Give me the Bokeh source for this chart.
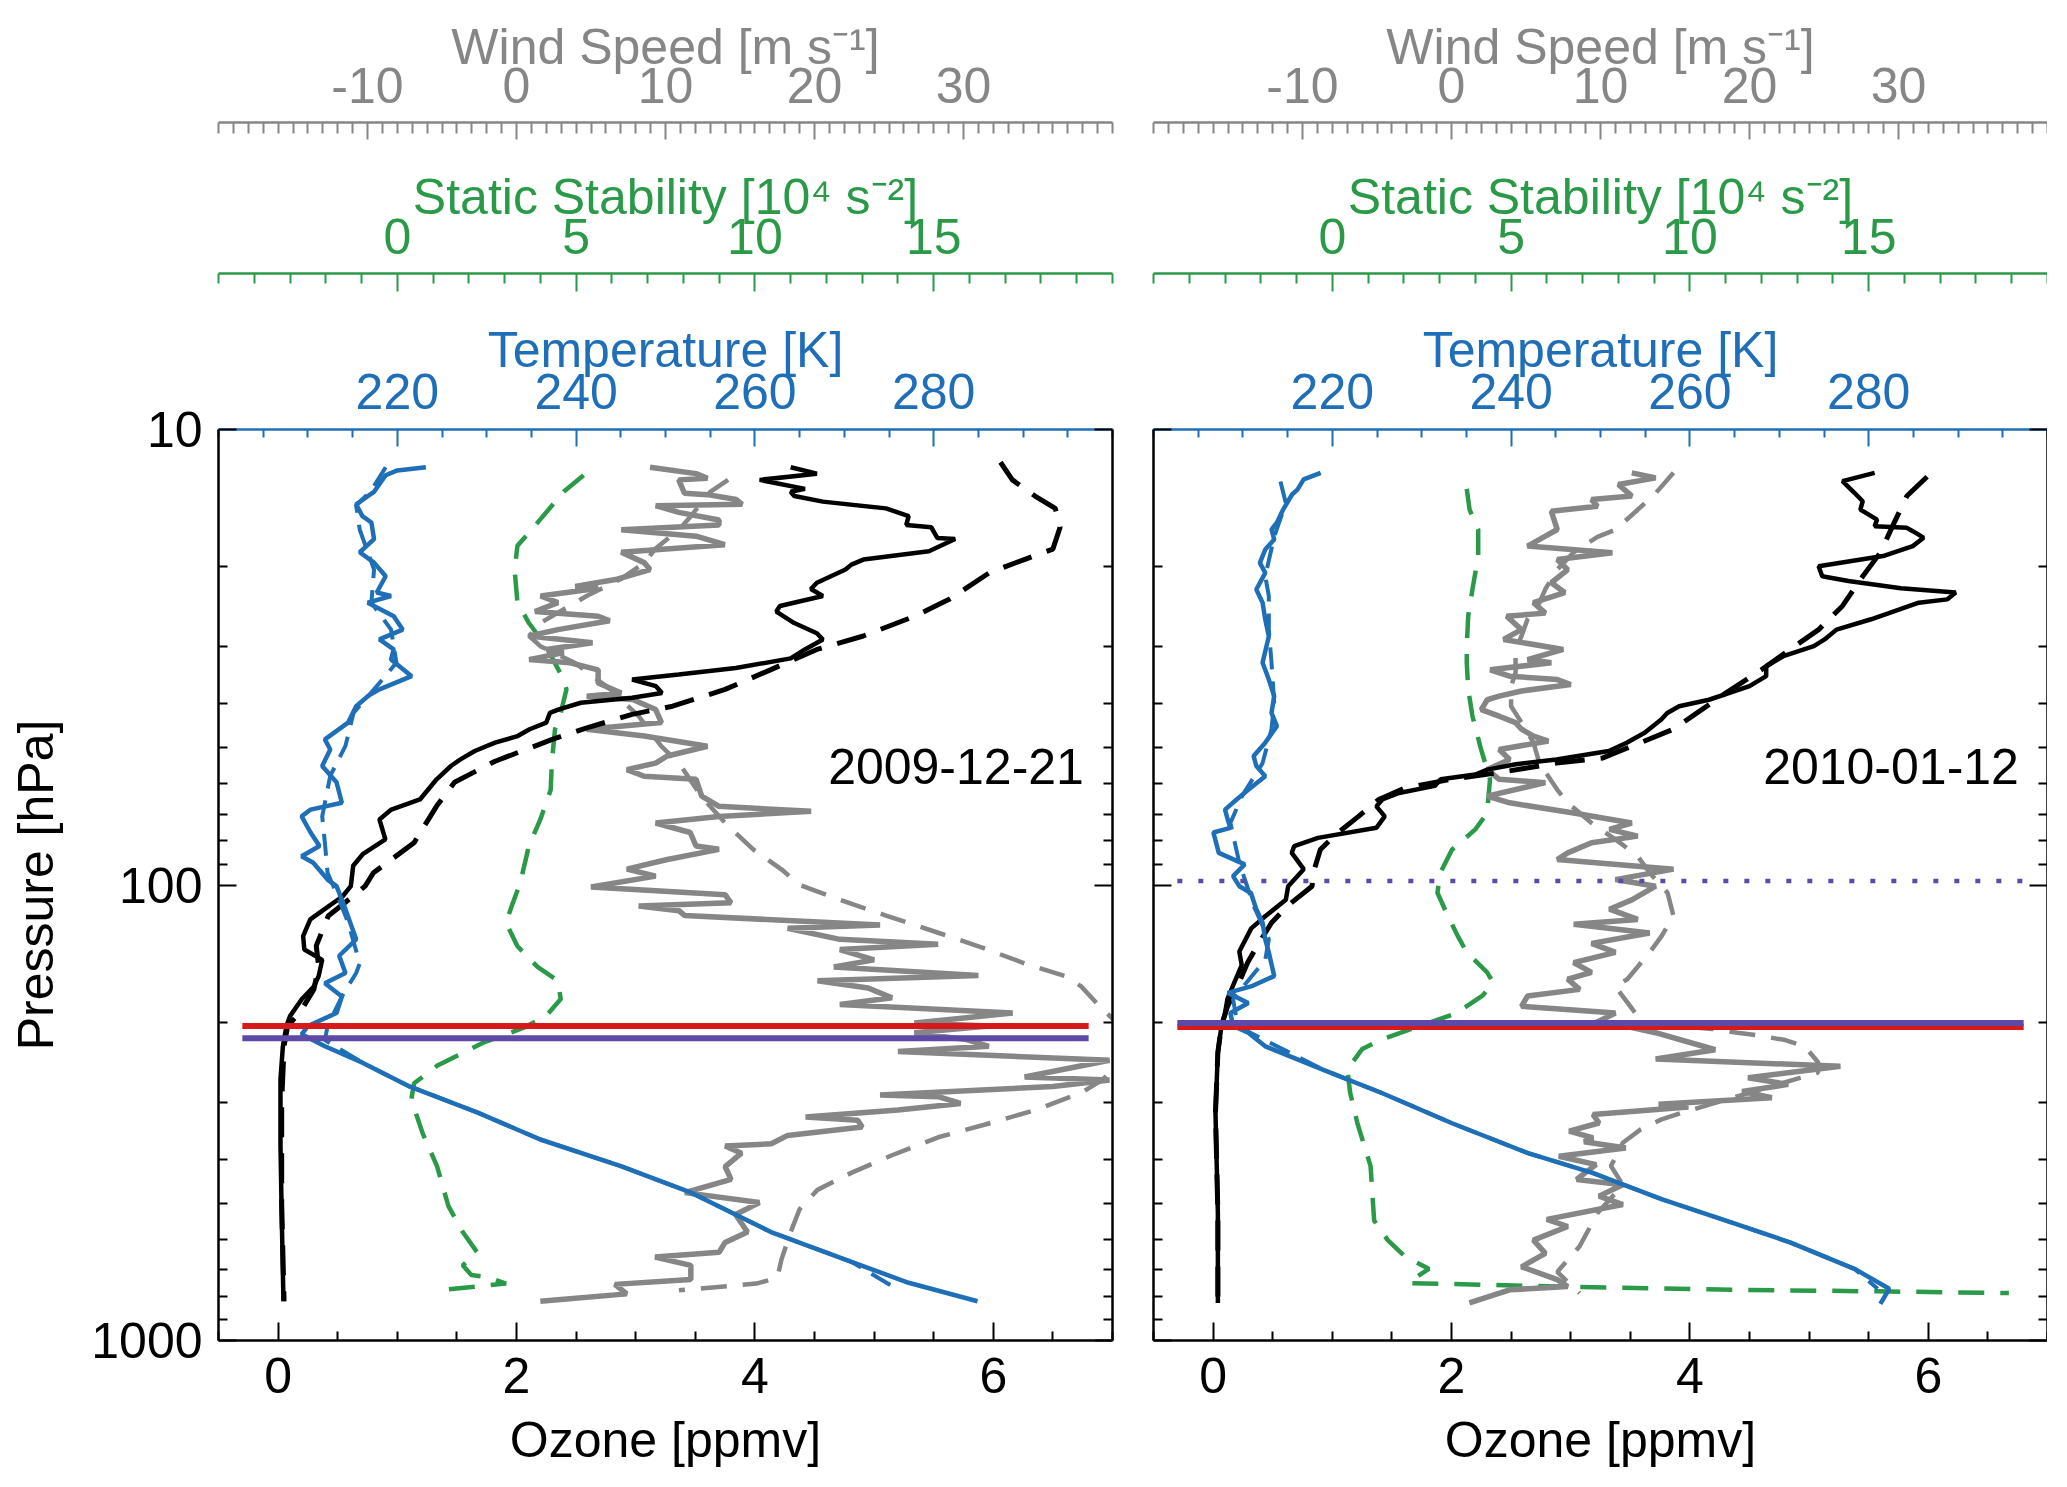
from bokeh.plotting import figure
from bokeh.models import Range1d, LinearAxis, LogAxis, FixedTicker, Label
from bokeh.layouts import row
from bokeh.embed import file_html
from bokeh.resources import INLINE

FONT = "Liberation Sans"
FS = "50px"
BLUE = "#1f6fb8"
GREEN = "#2a9a48"
GRAY = "#868686"
RED = "#d7191c"
PURPLE = "#5e4aa6"

# ---------------- ticks ----------------
ozone_major = [0, 2, 4, 6]
ozone_minor = [-0.5, 0.5, 1, 1.5, 2.5, 3, 3.5, 4.5, 5, 5.5, 6.5, 7]
p_major = [10, 100, 1000]
p_minor = [20, 30, 40, 50, 60, 70, 80, 90, 200, 300, 400, 500, 600, 700, 800, 900]
p_labels = {10: "10", 100: "100", 1000: "1000"}
temp_major = [220, 240, 260, 280]
temp_minor = [t for t in range(200, 301, 5) if t not in temp_major]
ss_major = [0, 5, 10, 15]
ss_minor = [s for s in range(-5, 21) if s not in ss_major]
wind_major = [-10, 0, 10, 20, 30]
wind_minor = [w for w in range(-20, 41) if w not in wind_major]

# ---------------- 2009-12-21 ----------------
l_o3_p = [12.1, 12.5, 12.9, 13.5, 13.7, 14.0, 14.4, 14.9, 15.5, 16.2, 16.4, 17.3, 17.4, 18.5, 19.3,
          19.8, 20.3, 21.7, 22.4, 23.2, 24.4, 25.1, 26.6, 28.0, 28.9, 30.4, 31.8, 33.4, 34.5, 35.4,
          36.6, 37.9, 38.8, 39.8, 41.2, 41.9, 44.0, 45.5, 47.1, 48.7, 50.8, 53.0, 54.8, 58.6, 64.9,
          68.3, 71.8, 79.4, 85.6, 90.7, 100.6, 106, 113, 119, 129.5, 138.6, 146, 158.5, 167, 178,
          194, 204, 226, 267, 374, 525, 820]
l_o3 = [4.30, 4.52, 4.04, 4.42, 4.30, 4.33, 4.57, 5.10, 5.29, 5.27, 5.48, 5.53, 5.68, 5.46, 4.91,
        4.81, 4.76, 4.52, 4.47, 4.57, 4.21, 4.18, 4.33, 4.52, 4.57, 4.42, 4.30, 3.84, 3.36, 2.97,
        3.17, 3.22, 2.97, 2.54, 2.35, 2.28, 2.25, 2.11, 2.01, 1.82, 1.65, 1.53, 1.45, 1.33, 1.19,
        0.95, 0.85, 0.90, 0.71, 0.63, 0.61, 0.54, 0.39, 0.27, 0.21, 0.22, 0.37, 0.34, 0.30, 0.20,
        0.10, 0.07, 0.04, 0.02, 0.02, 0.03, 0.045]
l_o3m_p = [11.8, 12.9, 14.0, 14.9, 16.4, 18.3, 19.3, 20.6, 23.6, 25.7, 28.4, 30.4, 33.7, 37.2, 40.5,
           42.2, 45.2, 47.9, 53.5, 59.5, 67.1, 80.8, 94.0, 100.6, 109.4, 117, 136, 150.8, 169.5, 191,
           204, 226, 300, 500, 820]
l_o3m = [6.06, 6.16, 6.35, 6.52, 6.56, 6.50, 6.26, 5.97, 5.63, 5.34, 4.91, 4.52, 4.13, 3.75, 3.31,
         2.97, 2.59, 2.30, 1.82, 1.48, 1.33, 1.14, 0.80, 0.73, 0.56, 0.42, 0.32, 0.34, 0.30, 0.18,
         0.08, 0.05, 0.03, 0.03, 0.05]
l_t_p = [12.1, 12.3, 12.6, 13.7, 14.0, 14.6, 15.5, 16.0, 17.4, 18.6, 19.6, 21.0, 22.8, 23.2, 24.0,
         25.7, 27.5, 28.9, 30.4, 32.0, 34.8, 37.2, 38.5, 40.5, 44.0, 47.9, 50.4, 54.8, 59.5, 66.0,
         68.3, 70.7, 76.7, 82.1, 86.5, 89.4, 97.3, 100.6, 104.1, 113, 131.6, 143, 156, 164.3, 175.8,
         191, 204, 212.7, 226, 245.5, 276, 316, 362, 414, 473, 578, 672, 747, 820]
l_t = [223.2, 220.0, 218.7, 217.4, 216.7, 215.4, 216.1, 217.1, 217.4, 215.8, 217.4, 218.7, 217.7, 219.3, 216.7,
       219.6, 220.6, 218.0, 219.6, 219.3, 221.6, 218.0, 216.7, 215.4, 214.5, 211.9, 212.5, 211.6, 213.2, 213.8,
       210.3, 209.3, 210.3, 211.3, 209.3, 210.6, 212.2, 213.2, 213.5, 214.2, 215.4, 213.5, 214.2, 211.9, 213.8,
       213.2, 210.0, 209.3, 211.9, 216.1, 221.2, 229.0, 236.0, 245.0, 252.8, 261.8, 270.8, 277.2, 284.9]
l_tm_p = [12.1, 13.6, 14.7, 16.6, 20.3, 24.0, 27.5, 32.5, 37.2, 41.9, 49.5, 57.6, 70.7, 80.8, 94.0,
          107.8, 121, 148.6, 156, 175.8, 204, 219, 245.5, 276, 316, 362, 414, 473, 578, 672, 773]
l_tm = [218.7, 217.1, 215.4, 215.8, 217.4, 217.1, 219.3, 219.9, 217.4, 215.1, 214.2, 212.5, 211.6, 211.9, 212.2,
        213.5, 214.5, 215.8, 215.4, 213.8, 212.2, 211.9, 216.1, 221.2, 229.0, 236.0, 245.0, 252.8, 261.8, 270.8, 276.0]
l_w_p = [12.1, 12.5, 12.8, 12.9, 13.8, 13.9, 14.25, 14.6, 14.7, 15.2,
         15.8, 16.2, 16.6, 17.15, 17.9, 18.6, 19.6, 20.3, 21.35, 22.1,
         22.3, 23.2, 24.0, 25.1, 25.7, 26.3, 27.5, 28.4, 29.4, 30.4,
         30.9, 32.0, 32.5, 33.7, 36.0, 37.9, 38.5, 39.15, 41.2, 44.0,
         45.5, 47.1, 49.6, 52.1, 54.0, 55.8, 57.7, 58.6, 63.8, 67.2,
         68.9, 70.7, 73.1, 76.7, 82.1, 83.5, 87.9, 92.3, 95.6, 101,
         105, 109.4, 111.2, 113.9, 116.7, 122.4, 124.4, 131.6, 135, 138.6,
         146, 151.3, 158, 162.3, 168.3, 176.9, 182.9, 191, 201, 204,
         211, 218.5, 226, 232, 242.6, 264, 268, 277, 289, 291.6,
         301.7, 312, 323, 328.6, 340, 354.6, 370, 374, 388, 415,
         443, 473.5, 498, 529, 578, 609, 640, 656, 684, 735,
         753, 790, 820]
l_w = [8.96, 12.05, 12.82, 10.89, 11.27, 12.82, 14.75, 15.14, 9.34, 10.89,
       13.59, 13.59, 7.03, 12.05, 13.98, 7.03, 8.57, 8.96, 6.64, 3.94,
       5.48, 1.62, 2.78, 1.24, 5.48, 6.25, 2.78, 0.85, 5.10, 2.01,
       3.17, 0.85, 3.55, 5.48, 5.48, 7.03, 4.71, 7.80, 9.34, 9.73,
       4.71, 8.57, 12.82, 10.12, 9.34, 7.41, 8.57, 12.05, 12.43, 13.59,
       19.77, 13.59, 9.34, 11.66, 12.05, 13.59, 10.12, 7.41, 9.34, 5.0,
       14.0, 14.4, 8.2, 10.9, 11.3, 24.4, 18.2, 21.7, 28.3, 21.7,
       24.0, 21.3, 31.0, 20.2, 23.6, 25.2, 21.7, 33.3, 26.7, 31.7,
       26.7, 30.2, 31.7, 25.6, 39.8, 34.1, 39.8, 36.0, 24.4, 28.3,
       29.8, 25.6, 19.4, 22.9, 23.2, 18.2, 17.1, 14.0, 15.1, 14.0,
       14.4, 11.3, 16.3, 14.7, 15.5, 14.0, 13.6, 9.3, 11.7, 11.7,
       6.6, 7.4, 1.6]
l_wm_p = [12.9, 13.7, 15.5, 16.6, 18.3, 19.6, 21.3, 23.2, 26.6, 28.4, 29.9, 32.5, 37.2, 42.6, 49.5,
          54.0, 63.8, 73.1, 83.6, 92.5, 100, 107.8, 116.7, 127.3, 136.3, 148.6, 158.5, 167, 184, 201,
          230, 268, 286, 312, 336, 358, 392, 428, 467, 515, 578, 661, 729, 750, 776]
l_wm = [14.2, 13.0, 11.7, 10.9, 9.3, 8.6, 7.0, 4.7, 1.6, 0.85, 1.6, 3.9, 6.3, 8.2, 9.7,
        10.9, 12.4, 14.0, 15.9, 17.8, 19.0, 21.7, 24.8, 28.3, 31.0, 34.1, 36.8, 37.9, 39.1, 40.3,
        41.5, 39.3, 37.9, 34.8, 31.4, 28.3, 25.2, 22.5, 20.2, 19.0, 18.4, 17.8, 17.5, 16.1, 10.9]
l_ss_p = [12.6, 13.7, 16.3, 18.0, 20.3, 24.0, 26.6, 29.9, 35.4, 37.2, 41.9, 45.5, 54.0, 61.8, 71.8,
          82.1, 98.8, 111.2, 121, 136.3, 151.3, 162.3, 178, 194, 206, 222, 249.4, 272.5, 296, 351,
          414, 507, 578, 640, 684, 718, 727, 750, 776]
l_ss = [5.21, 4.65, 3.84, 3.36, 3.28, 3.36, 3.68, 4.16, 4.65, 4.73, 4.57, 4.41, 4.32, 4.29, 4.0,
        3.68, 3.44, 3.20, 3.04, 3.36, 3.92, 4.49, 4.57, 4.16, 3.52, 2.40, 1.11, 0.47, 0.39, 0.71,
        1.11, 1.43, 1.83, 2.23, 1.83, 2.07, 2.56, 3.04, 1.11]
l_trop_red = 204
l_trop_purple = 217

# ---------------- 2010-01-12 ----------------
r_o3_p = [12.45, 12.98, 13.77, 14.37, 14.99, 15.77, 16.3, 16.44, 16.72, 17.28, 18.03, 18.96, 19.97, 21.0, 21.5,
          22.3, 22.8, 23.6, 24.0, 25.3, 26.1, 27.5, 28.9, 29.9, 31.4, 33.1, 34.8, 36.6, 39.2, 40.5,
          41.9, 43.3, 46.3, 48.7, 50.8, 53.0, 54.3, 55.8, 57.2, 58.6, 60.6, 62.8, 64.9, 67.2, 70.7,
          74.9, 78.8, 82.2, 85.0, 92.3, 100.6, 107.8, 117, 124.5, 140, 150, 161, 178, 191, 204,
          233, 316, 525, 827]
r_o3 = [5.55, 5.28, 5.38, 5.45, 5.43, 5.57, 5.55, 5.82, 5.87, 5.96, 5.87, 5.62, 5.08, 5.11, 5.33,
        5.77, 6.23, 6.16, 5.92, 5.67, 5.52, 5.23, 5.13, 5.04, 4.79, 4.64, 4.64, 4.50, 4.16, 3.91,
        3.81, 3.76, 3.62, 3.47, 3.32, 2.88, 2.54, 2.30, 2.20, 1.91, 1.86, 1.56, 1.42, 1.37, 1.44,
        1.37, 0.88, 0.68, 0.66, 0.76, 0.63, 0.61, 0.44, 0.32, 0.22, 0.24, 0.19, 0.12, 0.10, 0.07,
        0.04, 0.02, 0.04, 0.04]
r_o3m_p = [12.7, 14.0, 16.3, 18.6, 21.0, 24.4, 27.5, 30.4, 33.7, 37.9, 41.9, 45.5, 48.3, 52.6, 54.0,
           56.7, 58.6, 61.2, 64.9, 70.7, 77.4, 83.6, 94.0, 100.6, 110.8, 121, 136, 148, 170, 185,
           204, 233, 316, 525, 827]
r_o3m = [5.99, 5.82, 5.70, 5.60, 5.45, 5.28, 5.08, 4.84, 4.60, 4.30, 4.06, 3.86, 3.62, 3.27, 2.88,
         2.39, 2.00, 1.61, 1.39, 1.22, 1.03, 0.90, 0.84, 0.83, 0.63, 0.49, 0.37, 0.29, 0.19, 0.12,
         0.07, 0.04, 0.02, 0.04, 0.04]
r_t_p = [12.45, 12.87, 13.55, 13.89, 14.99, 16.02, 16.58, 17.44, 18.34, 19.63, 20.64, 22.45, 23.99, 26.14, 28.45,
         32.5, 35.4, 38.5, 41.9, 44.8, 48.7, 52.1, 54.8, 57.7, 61.8, 64.9, 68.3, 71.8, 74.9, 76.7,
         85.0, 90.1, 95.6, 100.6, 104.1, 113, 121, 131.6, 140.6, 158.5, 167, 172.5, 181.5, 191,
         204, 211, 226, 254.5, 286.5, 333.5, 388, 428.5, 490, 551, 609, 696, 770, 831]
r_t = [218.7, 216.8, 216.1, 215.5, 214.5, 213.8, 213.2, 213.5, 212.5, 211.9, 212.5, 211.5, 212.2, 212.5, 212.9,
       212.2, 212.9, 213.5, 213.2, 213.8, 212.5, 211.2, 211.5, 212.5, 210.6, 209.3, 208.0, 208.3, 208.6, 206.7,
       207.3, 210.2, 208.9, 209.6, 210.9, 211.5, 212.2, 212.5, 212.9, 213.5, 210.9, 208.3, 210.6, 208.6,
       208.9, 210.6, 212.5, 219.0, 225.6, 233.4, 241.9, 249.1, 256.9, 264.7, 271.2, 278.4, 282.3, 281.3]
r_tm_p = [13.0, 14.5, 17.2, 21.0, 23.2, 27.5, 32.5, 39.8, 45.5, 54.0, 63.8, 73.1, 89.4, 111, 131.6,
          146, 162, 178, 197.5, 208, 254.5, 286.5, 333.5, 388, 428.5, 490, 551, 609, 696, 770]
r_tm = [214.2, 214.8, 213.5, 212.5, 212.9, 212.9, 213.2, 213.5, 213.2, 212.2, 209.9, 208.6, 209.6, 211.2, 212.9,
        212.5, 210.6, 208.9, 209.3, 210.2, 219.0, 225.6, 233.4, 241.9, 249.1, 256.9, 264.7, 271.2, 278.4, 281.0]
r_w_p = [12.45, 12.77, 13.2, 14.0, 14.25, 14.74, 15.12, 16.58, 17.15, 18.03,
         18.64, 19.29, 20.31, 21.7, 22.8, 24.0, 25.3, 25.7, 27.5, 28.9,
         30.4, 32.0, 32.5, 33.7, 34.8, 35.4, 36.3, 37.5, 38.5, 39.2,
         41.2, 42.6, 44.0, 45.5, 47.1, 48.3, 50.4, 53.0, 55.8, 58.6,
         59.6, 63.8, 66.0, 69.5, 73.1, 75.5, 78.1, 80.8, 85.0, 87.9,
         90.7, 92.3, 97.3, 100.6, 107.8, 113, 119, 122, 127.5, 134.3,
         140.6, 148, 155.6, 161, 169.5, 175.3, 184.6,
         191, 202, 202.5, 211, 230, 241, 250, 265, 274, 284,
         293, 303, 307, 319, 333, 347, 359, 366, 378, 394,
         411, 443, 455, 482, 503, 542,
         562, 602, 644, 689, 735, 761, 774, 827]
r_w = [12.1, 13.7, 11.2, 12.1, 9.4, 9.8, 6.7, 7.1, 6.3, 5.1,
       10.8, 7.1, 7.8, 6.7, 7.6, 5.5, 6.3, 3.7, 4.7, 3.5,
       7.5, 5.1, 6.7, 2.6, 3.9, 7.1, 8.0, 4.7, 3.2, 2.4,
       2.0, 3.2, 4.3, 4.7, 5.5, 6.5, 3.2, 3.9, 2.4, 3.2,
       6.3, 2.4, 3.9, 8.2, 12.1, 10.6, 12.5, 9.4, 7.8, 7.1,
       12.1, 14.9, 11.0, 13.7, 12.1, 10.6, 12.5, 8.2, 13.3, 9.4,
       11.0, 8.2, 9.4, 7.8, 8.6, 5.1, 4.7,
       11.0, 9.5, 11.2, 13.7, 17.7, 13.7, 26.1, 19.9, 22.6, 19.5,
       21.5, 13.9, 15.9, 9.5, 9.9, 7.9, 9.5, 8.9, 11.7, 7.2,
       9.7, 8.4, 11.5, 9.9, 11.5, 6.4,
       7.8, 5.5, 6.3, 4.7, 7.1, 7.8, 3.9, 1.2]
r_wm_p = [12.45, 13.8, 15.0, 16.6, 17.2, 18.6, 20.3, 22.4, 24.0, 26.1, 28.4, 30.4, 34.2, 36.6, 40.5,
          44.0, 48.7, 54.0, 61.8, 66.0, 73.1, 79.4, 86.5, 94.0, 100.6, 104, 117, 129.5, 140.6, 161,
          167, 200, 205, 207, 211, 214, 219, 226, 245, 258, 265, 316, 327, 344, 368, 414, 455, 525,
          621, 707, 787]
r_wm = [14.9, 13.7, 12.5, 11.0, 9.8, 8.2, 7.1, 6.3, 5.9, 5.1, 4.7, 4.3, 4.3, 4.0, 4.0,
        4.7, 5.5, 5.9, 7.1, 7.8, 9.4, 11.0, 12.5, 13.3, 14.1, 14.5, 14.9, 14.1, 13.3, 11.8,
        11.0, 12.8, 15.9, 17.5, 19.2, 20.6, 22.4, 23.7, 24.6, 24.6, 23.4, 15.5, 14.1, 12.7, 11.5, 10.7, 11.5, 9.8,
        8.6, 7.1, 8.6]
r_ss_p = [13.5, 15.0, 16.6, 19.0, 22.4, 25.7, 29.9, 32.5, 37.2, 42.6, 50.4, 58.6, 69.5, 75.5, 83.6,
          94.0, 104, 115, 129.5, 140.6, 155.6, 164, 175, 191, 205, 219, 229, 254, 286, 333,
          414, 545, 602, 656, 696, 724, 748, 761, 774, 780, 787]
r_ss = [3.76, 3.84, 4.08, 4.08, 3.92, 3.80, 3.76, 3.76, 3.80, 3.92, 4.16, 4.41, 4.33, 4.0, 3.35,
        3.02, 2.94, 3.19, 3.51, 3.76, 4.33, 4.50, 4.20, 3.48, 2.37, 1.34, 0.84, 0.42, 0.50, 0.70,
        1.07, 1.17, 1.55, 2.05, 2.70, 2.37, 2.13, 6.28, 11.18, 15.25, 18.92]
r_trop_red = 205
r_trop_purple = 201
r_dotted = 98

trop_x = [-0.3, 6.8]
date_x, date_p = 6.76, 54.8


def style(ax, color, ticker, label=None, standoff=10, label_standoff=0,
          tick=18, minor=9, overrides=None, show_labels=True):
    ax.ticker = ticker
    ax.axis_line_color = color
    ax.axis_line_width = 2.5
    ax.major_tick_line_color = color
    ax.minor_tick_line_color = color
    ax.major_tick_line_width = 2
    ax.minor_tick_line_width = 2
    ax.major_tick_in = tick
    ax.major_tick_out = 0
    ax.minor_tick_in = minor
    ax.minor_tick_out = 0
    ax.major_label_text_font = FONT
    ax.major_label_standoff = standoff
    if overrides:
        ax.major_label_overrides = overrides
    if show_labels:
        ax.major_label_text_color = color
        ax.major_label_text_font_size = FS
    else:
        ax.major_label_text_color = None
        ax.major_label_text_font_size = "1px"
    if label:
        ax.axis_label = label
        ax.axis_label_text_color = color
        ax.axis_label_text_font = FONT
        ax.axis_label_text_font_size = FS
        ax.axis_label_text_font_style = "normal"
        ax.axis_label_standoff = label_standoff


def spacer(p, size):
    # an invisible axis with one hidden tick, only to open a gap between the top axes
    ax = LinearAxis(x_range_name="temp", ticker=FixedTicker(ticks=[250], minor_ticks=[]))
    ax.axis_line_color = None
    ax.major_tick_line_color = None
    ax.minor_tick_line_color = None
    ax.major_tick_in = 0
    ax.major_tick_out = size
    ax.major_label_standoff = 0
    ax.major_label_overrides = {250: " "}
    ax.major_label_text_font_size = "1px"
    ax.major_label_text_color = None
    p.add_layout(ax, "above")


def panel(first, min_left, min_right):
    p = figure(x_range=Range1d(-0.5, 7.0), y_range=Range1d(1000, 10), y_axis_type="log",
               frame_width=894, frame_height=911, output_backend="svg", toolbar_location=None,
               min_border_left=min_left, min_border_right=min_right,
               min_border_top=0, min_border_bottom=0)
    p.xgrid.visible = False
    p.ygrid.visible = False
    p.outline_line_color = None
    p.background_fill_color = "white"
    p.border_fill_color = "white"
    p.extra_x_ranges = {"temp": Range1d(200, 300), "ss": Range1d(-5, 20), "wind": Range1d(-20, 40)}

    style(p.below[0], "black", FixedTicker(ticks=ozone_major, minor_ticks=ozone_minor),
          "Ozone [ppmv]", standoff=17, label_standoff=16)
    style(p.left[0], "black", FixedTicker(ticks=p_major, minor_ticks=p_minor),
          "Pressure [hPa]" if first else None, standoff=16 if first else 0, label_standoff=24,
          overrides=p_labels, show_labels=first)
    yr = LogAxis(ticker=FixedTicker(ticks=p_major, minor_ticks=p_minor))
    style(yr, "black", yr.ticker, standoff=0, overrides=p_labels, show_labels=False)
    p.add_layout(yr, "right")

    t_ax = LinearAxis(x_range_name="temp")
    style(t_ax, BLUE, FixedTicker(ticks=temp_major, minor_ticks=temp_minor), "Temperature [K]",
          standoff=21, label_standoff=-7, tick=17, minor=8)
    p.add_layout(t_ax, "above")
    spacer(p, 45)
    s_ax = LinearAxis(x_range_name="ss")
    style(s_ax, GREEN, FixedTicker(ticks=ss_major, minor_ticks=ss_minor), "Static Stability [10\u2074 s\u207b\u00b2]",
          standoff=20, label_standoff=-9, tick=18, minor=10)
    p.add_layout(s_ax, "above")
    spacer(p, 43)
    w_ax = LinearAxis(x_range_name="wind")
    style(w_ax, GRAY, FixedTicker(ticks=wind_major, minor_ticks=wind_minor), "Wind Speed [m s\u207b\u00b9]",
          standoff=20, label_standoff=-10, tick=17, minor=11, overrides={-10: "-10"})
    p.add_layout(w_ax, "above")
    spacer(p, 15)
    return p


def draw(p, d):
    p.line(d["ss"], d["ss_p"], x_range_name="ss", line_color=GREEN, line_width=4.5, line_dash="26 16")
    p.line(d["wm"], d["wm_p"], x_range_name="wind", line_color=GRAY, line_width=4.5, line_dash="26 16")
    p.line(d["w"], d["w_p"], x_range_name="wind", line_color=GRAY, line_width=5.5)
    p.line(d["o3m"], d["o3m_p"], line_color="black", line_width=5, line_dash="30 16")
    p.line(d["o3"], d["o3_p"], line_color="black", line_width=4.5)
    p.line(d["tm"], d["tm_p"], x_range_name="temp", line_color=BLUE, line_width=4, line_dash="22 12")
    p.line(d["t"], d["t_p"], x_range_name="temp", line_color=BLUE, line_width=4.5)


p1 = panel(True, 218, 21)
draw(p1, dict(ss=l_ss, ss_p=l_ss_p, wm=l_wm, wm_p=l_wm_p, w=l_w, w_p=l_w_p, o3m=l_o3m, o3m_p=l_o3m_p,
              o3=l_o3, o3_p=l_o3_p, tm=l_tm, tm_p=l_tm_p, t=l_t, t_p=l_t_p))
p1.line(trop_x, [l_trop_red] * 2, line_color=RED, line_width=6)
p1.line(trop_x, [l_trop_purple] * 2, line_color=PURPLE, line_width=6)
p1.add_layout(Label(x=date_x, y=date_p, text="2009-12-21", text_align="right", text_baseline="middle",
                    text_font=FONT, text_font_size=FS, text_color="black"))

p2 = panel(False, 20, 0)
draw(p2, dict(ss=r_ss, ss_p=r_ss_p, wm=r_wm, wm_p=r_wm_p, w=r_w, w_p=r_w_p, o3m=r_o3m, o3m_p=r_o3m_p,
              o3=r_o3, o3_p=r_o3_p, tm=r_tm, tm_p=r_tm_p, t=r_t, t_p=r_t_p))
p2.line(trop_x, [r_dotted] * 2, line_color=PURPLE, line_width=4.5, line_dash="5 16")
p2.line(trop_x, [r_trop_red] * 2, line_color=RED, line_width=6)
p2.line(trop_x, [r_trop_purple] * 2, line_color=PURPLE, line_width=6)
p2.add_layout(Label(x=date_x, y=date_p, text="2010-01-12", text_align="right", text_baseline="middle",
                    text_font=FONT, text_font_size=FS, text_color="black"))

layout = row(p1, p2)
open("out.html", "w").write(file_html(layout, INLINE))
